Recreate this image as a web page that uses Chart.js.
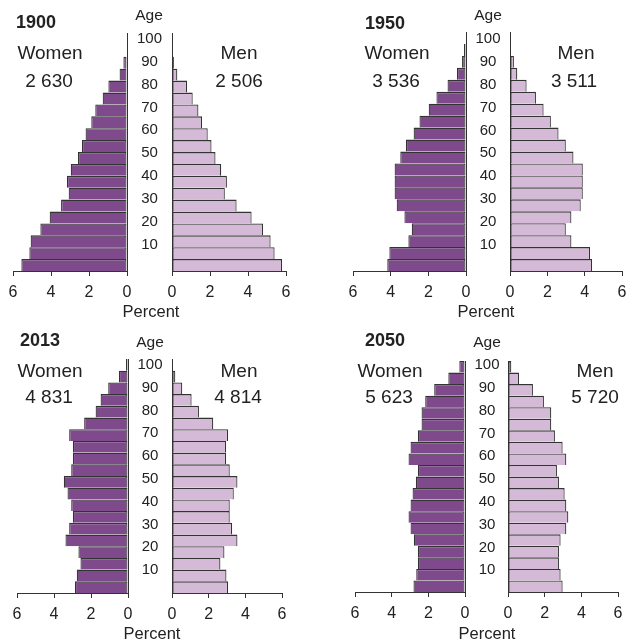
<!DOCTYPE html>
<html>
<head>
<meta charset="utf-8">
<script src="https://cdn.jsdelivr.net/npm/chart.js@4.4.1/dist/chart.umd.min.js"></script>
<style>
  body { margin: 0; background: #fff; }
  #wrap { position: relative; width: 628px; height: 642px; overflow: hidden; font-family: "Liberation Sans", Arial, sans-serif; color: #222; }
  canvas { position: absolute; }
  .t { position: absolute; white-space: nowrap; transform: translate(-50%, -50%); line-height: 1; }
  .year { font-weight: bold; font-size: 18px; }
  .big { font-size: 19px; }
  .age { font-size: 15.5px; }
  .pct { font-size: 16.5px; }
</style>
</head>
<body>
<div id="wrap"></div>
<script>
// data
const years = ["1900", "1950", "2013", "2050"];
const womenTotals = ["2 630", "3 536", "4 831", "5 623"];
const menTotals = ["2 506", "3 511", "4 814", "5 720"];

// age groups 0-4 ... 95-99
const ageGroupStart = [0, 5, 10, 15, 20, 25, 30, 35, 40, 45, 50, 55, 60, 65, 70, 75, 80, 85, 90, 95];
const ageTicks = [10, 20, 30, 40, 50, 60, 70, 80, 90, 100];
const percentTicks = [0, 2, 4, 6];

const women1900 = [5.56, 5.14, 5.07, 4.56, 4.07, 3.47, 3.07, 3.16, 2.96, 2.58, 2.37, 2.18, 1.88, 1.67, 1.28, 0.98, 0.39, 0.19, 0, 0];
const men1900   = [5.79, 5.40, 5.19, 4.79, 4.19, 3.40, 2.78, 2.89, 2.59, 2.29, 2.08, 1.88, 1.58, 1.39, 1.09, 0.79, 0.28, 0.10, 0, 0];

const women1950 = [4.18, 4.07, 3.06, 2.88, 3.27, 3.68, 3.79, 3.79, 3.79, 3.49, 3.19, 2.78, 2.47, 1.98, 1.57, 0.98, 0.48, 0.21, 0.11, 0];
const men1950   = [4.40, 4.29, 3.29, 2.99, 3.29, 3.79, 3.90, 3.90, 3.90, 3.40, 2.99, 2.60, 2.19, 1.80, 1.39, 0.89, 0.39, 0.21, 0.05, 0];

const women2013 = [2.87, 2.77, 2.57, 2.68, 3.38, 3.18, 2.98, 3.07, 3.27, 3.47, 3.07, 2.98, 2.98, 3.18, 2.37, 1.75, 1.48, 1.07, 0.49, 0.11];
const men2013   = [3.06, 2.97, 2.64, 2.86, 3.57, 3.28, 3.15, 3.15, 3.37, 3.57, 3.15, 2.95, 2.95, 3.06, 2.25, 1.47, 1.07, 0.56, 0.18, 0.02];

const women2050 = [2.81, 2.66, 2.57, 2.57, 2.79, 2.97, 3.08, 2.97, 2.86, 2.68, 2.57, 3.08, 2.97, 2.57, 2.37, 2.37, 2.17, 1.68, 0.91, 0.31];
const men2050   = [2.98, 2.87, 2.78, 2.78, 2.87, 3.18, 3.29, 3.18, 3.09, 2.78, 2.67, 3.18, 2.98, 2.56, 2.36, 2.36, 1.96, 1.36, 0.60, 0.18];

const womenSeries = [women1900, women1950, women2013, women2050];
const menSeries = [men1900, men1950, men2013, men2050];

// colours
const WOMEN_COLOR = "#7e4a8c";
const MEN_COLOR = "#d5bad7";
const LINE_COLOR = "#333333";
const TEXT_COLOR = "#222222";

// panel layout (page pixels)
const panels = [
  { wL: 13, wR: 127, mL: 172, mR: 286, top: 33, bottom: 271, ageMin: -1.6, ageMax: 102.6, ageX: 149.5,
    yearX: 36, yearY: 22, womenX: 50, menX: 239, lblY: 52, wTotX: 49, mTotX: 239, totY: 80, agePos: [149, 15], pct: [151, 311] },
  { wL: 353, wR: 466, mL: 510, mR: 622, top: 32, bottom: 271, ageMin: -1.6, ageMax: 103.1, ageX: 488,
    yearX: 385, yearY: 23, womenX: 397, menX: 576, lblY: 52, wTotX: 396, mTotX: 574, totY: 80, agePos: [488, 15], pct: [486, 311] },
  { wL: 17, wR: 128, mL: 172, mR: 282, top: 359, bottom: 593, ageMin: 0, ageMax: 102.5, ageX: 150,
    yearX: 40, yearY: 340, womenX: 50, menX: 239, lblY: 370, wTotX: 49, mTotX: 238, totY: 396, agePos: [150, 342], pct: [152, 633] },
  { wL: 355, wR: 465, mL: 508, mR: 618, top: 361, bottom: 592, ageMin: 0.4, ageMax: 101.9, ageX: 487,
    yearX: 385, yearY: 340, womenX: 390, menX: 595, lblY: 370, wTotX: 389, mTotX: 595, totY: 396, agePos: [487, 342], pct: [487, 633] }
];

const PAD_T = 12;
const AXIS_H = 36;
const AGE_FONT = 15;

Chart.defaults.font.family = '"Liberation Sans", Arial, sans-serif';
Chart.defaults.color = TEXT_COLOR;

const wrap = document.getElementById("wrap");

function addCanvas(left, top, w, h) {
  const c = document.createElement("canvas");
  c.width = w;
  c.height = h;
  c.style.left = left + "px";
  c.style.top = top + "px";
  wrap.appendChild(c);
  return c;
}

function addText(txt, x, y, cls) {
  const d = document.createElement("div");
  d.className = "t " + cls;
  d.textContent = txt;
  d.style.left = x + "px";
  d.style.top = y + "px";
  wrap.appendChild(d);
}

// fixed size axes, no extra label padding in the layout
function fixSize(s, w, h) {
  if (w !== null) s.width = w;
  if (h !== null) s.height = h;
  s.paddingTop = 0;
  s.paddingBottom = 0;
  s.paddingLeft = 0;
  s.paddingRight = 0;
}

function barData(values) {
  return ageGroupStart.map((a, i) => ({ x: values[i], y: a + 2.5 }));
}

function percentAxis(reverse) {
  return {
    type: "linear",
    reverse: reverse,
    min: 0,
    max: 6,
    offset: false,
    afterFit: s => fixSize(s, null, AXIS_H),
    afterBuildTicks: s => { s.ticks = percentTicks.map(v => ({ value: v })); },
    ticks: { padding: 7, color: TEXT_COLOR, font: { size: 16 }, maxRotation: 0 },
    grid: { display: true, drawOnChartArea: false, drawTicks: true, tickLength: 5, color: LINE_COLOR },
    border: { display: true, color: LINE_COLOR, width: 1 }
  };
}

function commonOptions() {
  return {
    responsive: false,
    animation: false,
    devicePixelRatio: 1,
    indexAxis: "y",
    plugins: { legend: { display: false }, tooltip: { enabled: false } },
    datasets: {
      bar: {
        barPercentage: 1,
        categoryPercentage: 1,
        borderColor: LINE_COLOR,
        borderWidth: { top: 1.4, bottom: 0, left: 1.2, right: 1.2 },
        borderSkipped: false,
        inflateAmount: 0
      }
    }
  };
}

function drawPanel(p, idx) {
  const h = (p.bottom - p.top) + PAD_T + AXIS_H;

  // women (left side, reversed)
  const wLeft = p.wL - 12;
  const cw = addCanvas(wLeft, p.top - PAD_T, p.mL - wLeft, h);
  const optW = commonOptions();
  optW.layout = { padding: { left: 12, top: PAD_T, right: 0, bottom: 0 } };
  optW.scales = {
    x: percentAxis(true),
    y: { type: "linear", min: 0, max: 100, offset: false, display: false },
    age: {
      type: "linear",
      axis: "y",
      position: "right",
      min: p.ageMin,
      max: p.ageMax,
      offset: false,
      afterFit: s => fixSize(s, p.mL - p.wR, null),
      afterBuildTicks: s => { s.ticks = ageTicks.map(v => ({ value: v })); },
      ticks: { crossAlign: "center", padding: p.ageX - p.wR - 12.5, color: TEXT_COLOR, font: { size: AGE_FONT } },
      grid: { display: false, drawTicks: false },
      border: { display: true, color: LINE_COLOR, width: 1 }
    }
  };
  new Chart(cw, {
    type: "bar",
    data: { datasets: [{ label: "Women", data: barData(womenSeries[idx]), backgroundColor: WOMEN_COLOR }] },
    options: optW
  });

  // men (right side)
  const mLeft = p.mL - 8;
  const cm = addCanvas(mLeft, p.top - PAD_T, p.mR + 12 - mLeft, h);
  const optM = commonOptions();
  optM.layout = { padding: { left: 8, top: PAD_T, right: 12, bottom: 0 } };
  optM.scales = {
    x: percentAxis(false),
    y: {
      type: "linear",
      position: "left",
      min: 0,
      max: 100,
      offset: false,
      afterFit: s => fixSize(s, 0, null),
      ticks: { display: false },
      grid: { display: false, drawTicks: false },
      border: { display: true, color: LINE_COLOR, width: 1 }
    }
  };
  new Chart(cm, {
    type: "bar",
    data: { datasets: [{ label: "Men", data: barData(menSeries[idx]), backgroundColor: MEN_COLOR }] },
    options: optM
  });

  // texts
  addText(years[idx], p.yearX, p.yearY, "year");
  addText("Women", p.womenX, p.lblY, "big");
  addText(womenTotals[idx], p.wTotX, p.totY, "big");
  addText("Men", p.menX, p.lblY, "big");
  addText(menTotals[idx], p.mTotX, p.totY, "big");
  addText("Age", p.agePos[0], p.agePos[1], "age");
  addText("Percent", p.pct[0], p.pct[1], "pct");
}

panels.forEach(drawPanel);
</script>
</body>
</html>
